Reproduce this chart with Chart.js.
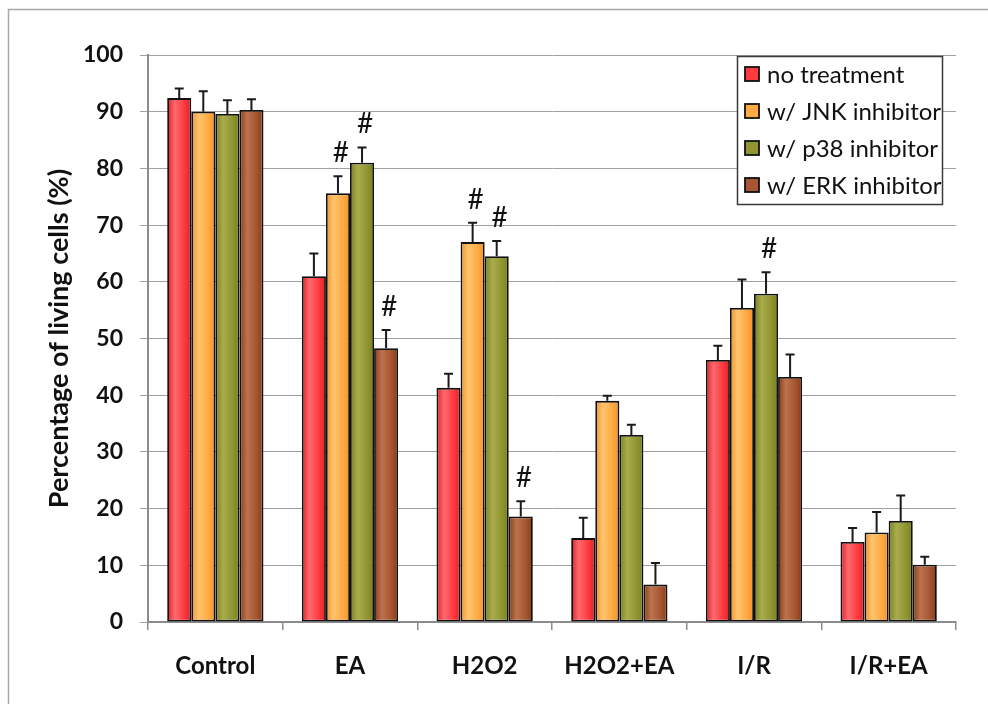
<!DOCTYPE html>
<html>
<head>
<meta charset="utf-8">
<script src="https://cdn.jsdelivr.net/npm/chart.js@4/dist/chart.umd.min.js"></script>
<style>
  html, body { margin: 0; padding: 0; background: #fff; }
  canvas { display: block; }
</style>
</head>
<body>
<canvas id="cells" width="988" height="704"></canvas>
<script>
// Treatment groups along the x axis
const categories = ['Control', 'EA', 'H2O2', 'H2O2+EA', 'I/R', 'I/R+EA'];

// Series names (legend)
const seriesNames = ['no treatment', 'w/ JNK inhibitor', 'w/ p38 inhibitor', 'w/ ERK inhibitor'];

// Mean percentage of living cells per series
const noTreatment = [92.4, 61.0, 41.3, 14.8, 46.2, 14.1];
const jnkInhibitor = [90.0, 75.6, 67.0, 39.0, 55.4, 15.8];
const p38Inhibitor = [89.6, 81.0, 64.5, 33.0, 57.9, 17.8];
const erkInhibitor = [90.3, 48.3, 18.6, 6.6, 43.2, 10.1];

// Upper error (SD) per series
const noTreatmentErr = [1.7, 4.0, 2.5, 3.6, 2.5, 2.5];
const jnkInhibitorErr = [3.6, 3.0, 3.4, 0.9, 5.0, 3.6];
const p38InhibitorErr = [2.4, 2.7, 2.7, 1.8, 3.8, 4.5];
const erkInhibitorErr = [1.9, 3.2, 2.7, 3.8, 4.0, 1.4];

// Y axis ticks
const yTicks = [0, 10, 20, 30, 40, 50, 60, 70, 80, 90, 100];

// Significance marks: [group index, series index]
const hashMarks = [[1, 1], [1, 2], [1, 3], [2, 1], [2, 2], [2, 3], [4, 2]];

const seriesValues = [noTreatment, jnkInhibitor, p38Inhibitor, erkInhibitor];
const seriesErrors = [noTreatmentErr, jnkInhibitorErr, p38InhibitorErr, erkInhibitorErr];

// Bar shading: edge / highlight / body colours
const palette = [
  { dark: '#DE1F26', light: '#FF6A6E', base: '#FF3A40' },
  { dark: '#F0922A', light: '#FFC56E', base: '#FFAA42' },
  { dark: '#77801C', light: '#A9AC4C', base: '#919632' },
  { dark: '#883919', light: '#BC734D', base: '#A65732' }
];

const CAT_PCT = 0.715;
const FONT = 'Lato, "Open Sans", "DejaVu Sans", sans-serif';

// Horizontal cylinder-like gradient across each bar
function barFill(ctx) {
  const p = palette[ctx.datasetIndex];
  if (ctx.type !== 'data') return p.base;
  const chart = ctx.chart;
  const xs = chart.scales.x;
  if (!xs || !xs.width) return p.base;
  const catW = xs.width / categories.length;
  const groupW = catW * CAT_PCT;
  const slot = groupW / seriesValues.length;
  const left = xs.getPixelForValue(ctx.dataIndex) - groupW / 2 + slot * ctx.datasetIndex;
  const g = chart.ctx.createLinearGradient(left, 0, left + slot, 0);
  g.addColorStop(0, p.dark);
  g.addColorStop(0.32, p.light);
  g.addColorStop(0.7, p.base);
  g.addColorStop(1, p.dark);
  return g;
}

const datasets = seriesNames.map((name, i) => ({
  label: name,
  data: seriesValues[i],
  errors: seriesErrors[i],
  backgroundColor: barFill,
  borderColor: '#111',
  borderWidth: 1.8,
  borderSkipped: false,
  categoryPercentage: CAT_PCT,
  barPercentage: 1.0
}));

// White page with a thin grey frame
const framePlugin = {
  id: 'frame',
  beforeDraw(chart) {
    const c = chart.ctx;
    c.save();
    c.fillStyle = '#fff';
    c.fillRect(0, 0, chart.width, chart.height);
    c.strokeStyle = '#a8a8a8';
    c.lineWidth = 1.5;
    c.strokeRect(8.5, 9.5, chart.width + 20, chart.height + 20);
    c.restore();
  }
};

// Upward error bars and significance marks
const errorBarPlugin = {
  id: 'errorBars',
  afterDatasetsDraw(chart) {
    const c = chart.ctx;
    const ys = chart.scales.y;
    c.save();
    c.strokeStyle = '#1a1a1a';
    c.lineWidth = 2;
    chart.data.datasets.forEach((ds, di) => {
      const meta = chart.getDatasetMeta(di);
      meta.data.forEach((bar, i) => {
        const capY = ys.getPixelForValue(ds.data[i] + ds.errors[i]);
        c.beginPath();
        c.moveTo(bar.x, bar.y);
        c.lineTo(bar.x, capY);
        c.moveTo(bar.x - 4.5, capY);
        c.lineTo(bar.x + 4.5, capY);
        c.stroke();
      });
    });
    c.fillStyle = '#111';
    c.font = '28px ' + FONT;
    c.textAlign = 'center';
    c.textBaseline = 'middle';
    hashMarks.forEach(([gi, si]) => {
      const bar = chart.getDatasetMeta(si).data[gi];
      const ds = chart.data.datasets[si];
      const capY = ys.getPixelForValue(ds.data[gi] + ds.errors[gi]);
      c.fillText('#', bar.x + 3, capY - 23);
    });
    c.restore();
  }
};

// Boxed legend in the upper right of the plot
const boxLegendPlugin = {
  id: 'boxLegend',
  afterDraw(chart) {
    const c = chart.ctx;
    const x0 = 737, y0 = 56, w = 205, h = 148;
    c.save();
    c.fillStyle = '#fff';
    c.fillRect(x0, y0, w, h);
    c.strokeStyle = '#3a3a3a';
    c.lineWidth = 1.5;
    c.strokeRect(x0 + 0.5, y0 + 0.5, w, h);
    c.font = '24px ' + FONT;
    c.textAlign = 'left';
    c.textBaseline = 'middle';
    chart.data.datasets.forEach((ds, i) => {
      const cy = y0 + 18 + i * 37;
      c.fillStyle = palette[i].base;
      c.fillRect(745, cy - 7, 14, 14);
      c.strokeStyle = '#111';
      c.lineWidth = 1.8;
      c.strokeRect(745, cy - 7, 14, 14);
      c.fillStyle = '#111';
      c.fillText(ds.label, 767, cy + 1);
    });
    c.restore();
  }
};

new Chart(document.getElementById('cells'), {
  type: 'bar',
  data: { labels: categories, datasets },
  plugins: [framePlugin, errorBarPlugin, boxLegendPlugin],
  options: {
    responsive: false,
    animation: false,
    layout: { padding: { left: 20, top: 55, right: 32, bottom: 0 } },
    plugins: {
      legend: { display: false },
      tooltip: { enabled: false }
    },
    scales: {
      x: {
        afterFit(scale) { scale.height = 82; },
        grid: {
          offset: true,
          drawOnChartArea: false,
          drawTicks: true,
          tickLength: 8,
          color: '#8c8c8c',
          lineWidth: 1.5
        },
        border: { display: true, color: '#8c8c8c', width: 2 },
        ticks: {
          color: '#111',
          padding: 22,
          font: { family: FONT, size: 24, weight: 'bold' }
        }
      },
      y: {
        min: 0,
        max: 100,
        afterFit(scale) { scale.width = 128; },
        afterBuildTicks(scale) { scale.ticks = yTicks.map(v => ({ value: v })); },
        grid: {
          color: '#a0a0a0',
          lineWidth: 1,
          drawTicks: true,
          tickLength: 8
        },
        border: { display: true, color: '#8c8c8c', width: 2 },
        ticks: {
          color: '#111',
          padding: 17,
          font: { family: FONT, size: 23, weight: 'bold' }
        },
        title: {
          display: true,
          text: 'Percentage of living cells (%)',
          color: '#111',
          padding: { top: 23, bottom: 0 },
          font: { family: FONT, size: 27, weight: 'bold' }
        }
      }
    }
  }
});
</script>
</body>
</html>
